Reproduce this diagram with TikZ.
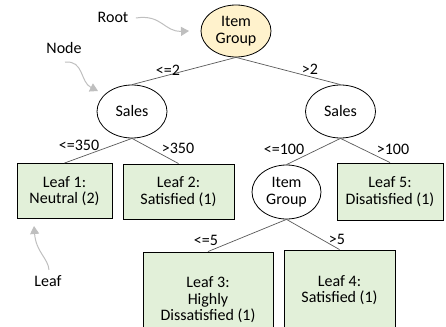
\documentclass[tikz,border=0pt]{standalone}
\usepackage{fontspec}
\setmainfont{Carlito}
\usetikzlibrary{arrows.meta, shapes.geometric}

\definecolor{rootfill}{HTML}{FFF2CC}
\definecolor{leaffill}{HTML}{E2F0D9}
\definecolor{branch}{HTML}{595959}
\definecolor{hint}{HTML}{BFBFBF}

\tikzset{
    split/.style={ellipse, draw, line width=0.8pt, inner sep=0pt,
        minimum width=70pt, minimum height=53pt, align=center},
    leafbox/.style={rectangle, draw, line width=0.9pt, fill=leaffill,
        inner sep=0pt, align=center},
    branchline/.style={draw=branch, line width=0.7pt},
    cut/.style={inner sep=1pt},
    hintarrow/.style={draw=hint, line width=1pt, -{Triangle[length=8pt, width=9pt]}}
}

\begin{document}
\begin{tikzpicture}[x=1pt, y=-1pt, font=\fontsize{16}{16.5}\selectfont]
    \useasboundingbox (0,0) rectangle (446,326);

    % Splitting nodes
    \node[split, fill=rootfill, minimum height=52pt] (root) at (236,31) {Item\\Group};
    \node[split] (salesL) at (132,111.5) {Sales};
    \node[split] (salesR) at (340.5,111.5) {Sales};
    \node[split, minimum width=69pt, minimum height=54pt] (group) at (286.5,192) {Item\\Group};

    % Leaves
    \node[leafbox, minimum width=95pt, minimum height=55pt] (leafA) at (64.5,191) {Leaf 1:\\Neutral (2)};
    \node[leafbox, minimum width=111pt, minimum height=55pt] (leafB) at (178.5,191.5) {Leaf 2:\\Satisfied (1)};
    \node[leafbox, minimum width=106pt, minimum height=57pt] (leafE) at (390,191.5) {Leaf 5:\\Disatisfied (1)};
    \node[leafbox, minimum width=130pt, minimum height=96pt] (leafC) at (208,300) {Leaf 3:\\Highly\\Dissatisfied (1)};
    \node[leafbox, minimum width=111pt, minimum height=80pt] (leafD) at (339.5,290) {Leaf 4:\\Satisfied (1)};

    % Branches
    \draw[branchline] (root.south) -- (salesL.north);
    \draw[branchline] (root.south) -- (salesR.north);
    \draw[branchline] (salesL.south) -- (leafA.north);
    \draw[branchline] (salesL.south) -- (leafB.north);
    \draw[branchline] (salesR.south) -- (group.north);
    \draw[branchline] (salesR.south) -- (leafE.north);
    \draw[branchline] (group.south) -- (leafC.north);
    \draw[branchline] (group.south) -- (leafD.north);

    % Split conditions
    \node[cut] (cutA) at (168,70) {<=2};
    \node[cut] (cutB) at (310,69) {>2};
    \node[cut] (cutC) at (79,145) {<=350};
    \node[cut] (cutD) at (178,148) {>350};
    \node[cut] (cutE) at (284,149) {<=100};
    \node[cut] (cutF) at (393,149) {>100};
    \node[cut] (cutG) at (206,240) {<=5};
    \node[cut] (cutH) at (337,239) {>5};

    % Annotations
    \node (tagRoot) at (113,17) {Root};
    \node (tagNode) at (64,48) {Node};
    \node (tagLeaf) at (48,281) {Leaf};
    \coordinate (toRoot) at (189,31);
    \coordinate (toNode) at (98,91);
    \coordinate (toLeaf) at (34,226);
    \draw[hintarrow] (tagRoot.east) ++(4,1) .. controls (162,14) and (164,32) .. (toRoot);
    \draw[hintarrow] (tagNode.south) ++(1,5) .. controls (84,60) and (80,82) .. (toNode);
    \draw[hintarrow] (tagLeaf.north) ++(1,-2) .. controls (48,258) and (36,252) .. (toLeaf);
\end{tikzpicture}
\end{document}
